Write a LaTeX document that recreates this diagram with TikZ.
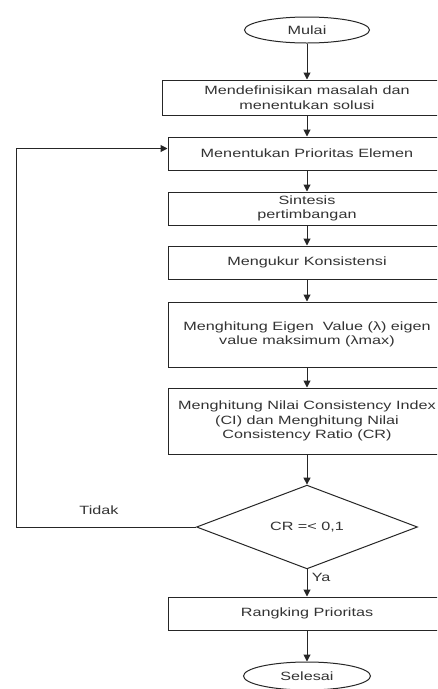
\documentclass[tikz,border=0pt]{standalone}
\usepackage{fontspec}
\setmainfont[FakeStretch=1.35]{Liberation Sans}
\usetikzlibrary{positioning}
\usetikzlibrary{calc}
\usetikzlibrary{shapes.geometric}
\usetikzlibrary{arrows.meta}

\begin{document}
\begin{tikzpicture}[x=1pt,y=-1pt,
  font=\fontsize{12}{14.5}\selectfont,
  box/.style={draw=black!85,line width=1pt,rectangle,minimum width=278pt,minimum height=33pt,inner sep=0pt,align=center,text=black!80},
  terminal/.style={draw=black!85,line width=1pt,ellipse,minimum width=125pt,minimum height=26pt,inner sep=0pt,text=black!80},
  decision/.style={draw=black!85,line width=1pt,diamond,minimum width=221pt,minimum height=77pt,inner sep=0pt,text=black!80},
  flow/.style={draw=black!85,line width=1pt,-{Triangle[length=7pt,width=7pt]}}]
\clip (0,0) rectangle (437,689);
\fill[white] (0,0) rectangle (437,689);

\node[terminal] (mulai) at (307,30) {Mulai};
\node[box,minimum width=290pt,minimum height=35pt] (definisi) at (307,97.5) {Mendefinisikan masalah dan\\menentukan solusi};
\node[box] (prioritas) at (307,153.5) {Menentukan Prioritas Elemen};
\node[box] (sintesis) at (307,208.5) {Sintesis\\pertimbangan};
\node[box] (ukur) at (307,262.5) {Mengukur Konsistensi};
\node[box,minimum height=65pt] (eigen) at (307,334.5) {Menghitung Eigen~ Value (λ) eigen\\value maksimum (λmax)};
\node[box,minimum height=66pt] (indeks) at (307,421) {Menghitung Nilai Consistency Index\\(CI) dan Menghitung Nilai\\Consistency Ratio (CR)};
\node[decision] (cr) at (307,527) {CR =< 0,1};
\node[box] (ranking) at (307,613.5) {Rangking Prioritas};
\node[terminal,minimum width=127pt,minimum height=28pt] (selesai) at (307,676) {Selesai};

\draw[flow] (mulai) -- (definisi);
\draw[flow] (definisi) -- (prioritas);
\draw[flow] (prioritas) -- (sintesis);
\draw[flow] (sintesis) -- (ukur);
\draw[flow] (ukur) -- (eigen);
\draw[flow] (eigen) -- (indeks);
\draw[flow] (indeks) -- (cr);
\draw[flow] (cr) -- node[pos=0.3,right=1pt,text=black!80] (ya) {Ya} (ranking);
\draw[flow] (ranking) -- (selesai);

% jalur kembali jika CR tidak memenuhi
\coordinate (balik) at (16,527);
\draw[flow] (cr.west) -- (balik) |- ([yshift=5pt]prioritas.west);
\node[text=black!80] (tidak) at (99,510) {Tidak};
\end{tikzpicture}
\end{document}
